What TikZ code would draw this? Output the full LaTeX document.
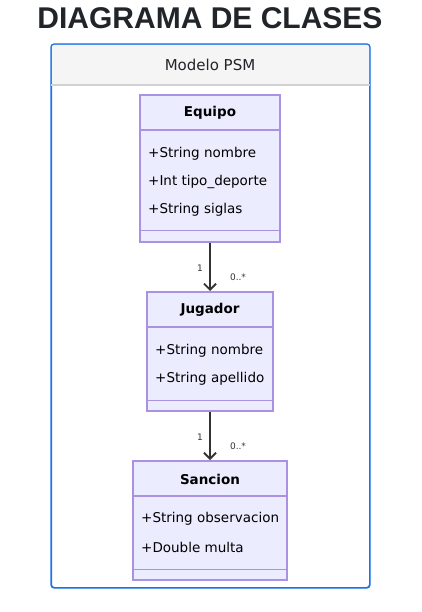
\documentclass[tikz,border=0pt]{standalone}
\usepackage{fontspec}
\setmainfont{DejaVu Sans}
\newfontfamily\titlefont{Liberation Sans}
\usetikzlibrary{positioning, calc, arrows.meta}

\definecolor{umlfill}{RGB}{236, 236, 255}
\definecolor{umlborder}{RGB}{170, 145, 225}
\definecolor{frameblue}{RGB}{26, 115, 232}
\definecolor{headgray}{RGB}{245, 245, 245}
\definecolor{rulegray}{RGB}{210, 210, 210}
\definecolor{inkdark}{RGB}{33, 37, 41}
\definecolor{arrowgray}{RGB}{51, 51, 51}

\begin{document}
\begin{tikzpicture}[
    x=1pt, y=-1pt,
    classbox/.style = {rectangle, draw=umlborder, fill=umlfill, line width=1.6pt, anchor=north, inner sep=0pt},
    classname/.style = {font=\fontsize{13.5}{15}\selectfont\bfseries, text=black, inner sep=0pt},
    attr/.style = {font=\fontsize{13.5}{15}\selectfont, text=black, anchor=west, inner sep=0pt},
    divider/.style = {draw=umlborder, line width=1.6pt},
    assoc/.style = {draw=arrowgray, line width=1.5pt, -{Straight Barb[length=6pt, width=12pt, line width=1.8pt]}},
    mult/.style = {font=\fontsize{9}{10}\selectfont, text=arrowgray, inner sep=0pt}
]
    % Page
    \useasboundingbox (0,0) rectangle (422,612);

    % Title
    \node (title) [font=\titlefont\fontsize{30}{34}\selectfont\bfseries, text=inkdark] at (210,18) {DIAGRAMA DE CLASES};

    % Container
    \node (frame) [draw=frameblue, line width=1pt, rounded corners=3pt, minimum width=318pt, minimum height=543pt, anchor=north west] at (51,44) {};
    \fill[headgray, rounded corners=3pt] ([xshift=0.5pt, yshift=-0.5pt]frame.north west) rectangle ([xshift=-0.5pt]frame.north east |- 0,85);
    \draw[frameblue, line width=1.2pt, rounded corners=3pt] (frame.north west) rectangle (frame.south east);
    \draw[rulegray, line width=1.2pt] (frame.west |- 0,85) -- (frame.east |- 0,85);
    \node (pkg) [font=\fontsize{15}{17}\selectfont, text=inkdark] at (210,65) {Modelo PSM};

    % Classes
    \node (equipo) [classbox, minimum width=140pt, minimum height=147pt] at (210,94) {};
    \node (jugador) [classbox, minimum width=126pt, minimum height=119pt] at (210,291) {};
    \node (sancion) [classbox, minimum width=154pt, minimum height=119pt] at (210,460) {};

    % Equipo
    \node [classname] at (210,113) {Equipo};
    \draw [divider] ([yshift=-36pt]equipo.north west) -- ([yshift=-36pt]equipo.north east);
    \node [attr] at (148,154) {+String nombre};
    \node [attr] at (148,182) {+Int tipo\_deporte};
    \node [attr] at (148,210) {+String siglas};
    \draw [divider] ([yshift=12pt]equipo.south west) -- ([yshift=12pt]equipo.south east);

    % Jugador
    \node [classname] at (210,310) {Jugador};
    \draw [divider] ([yshift=-36pt]jugador.north west) -- ([yshift=-36pt]jugador.north east);
    \node [attr] at (155,351) {+String nombre};
    \node [attr] at (155,379) {+String apellido};
    \draw [divider] ([yshift=11pt]jugador.south west) -- ([yshift=11pt]jugador.south east);

    % Sancion
    \node [classname] at (210,479) {Sancion};
    \draw [divider] ([yshift=-36pt]sancion.north west) -- ([yshift=-36pt]sancion.north east);
    \node [attr] at (141,519) {+String observacion};
    \node [attr] at (141,547) {+Double multa};
    \draw [divider] ([yshift=11pt]sancion.south west) -- ([yshift=11pt]sancion.south east);

    % Associations
    \draw [assoc] (equipo.south) -- node[mult, pos=0.52, xshift=-10pt] {1} node[mult, pos=0.72, xshift=28pt] {0..*} (jugador.north);
    \draw [assoc] (jugador.south) -- node[mult, pos=0.52, xshift=-10pt] {1} node[mult, pos=0.72, xshift=28pt] {0..*} (sancion.north);

\end{tikzpicture}
\end{document}
